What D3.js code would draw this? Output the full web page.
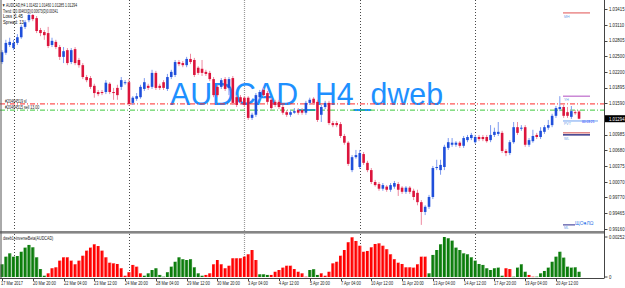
<!DOCTYPE html>
<html><head><meta charset="utf-8">
<script src="https://cdn.jsdelivr.net/npm/d3@7"></script>
<style>html,body{margin:0;padding:0;background:#fff}svg{display:block}</style>
</head><body>
<svg id="c" width="625" height="288"></svg>
<script>
// ---------- DATA ----------
const opens=[1.0239,1.0257,1.0272,1.0266,1.0276,1.0287,1.0307,1.0320,1.0330,1.0324,
1.0301,1.0297,1.0295,1.0272,1.0278,1.0268,1.0249,1.0262,1.0239,1.0264,
1.0243,1.0233,1.0210,1.0208,1.0193,1.0181,1.0181,1.0181,1.0197,1.0181,
1.0189,1.0191,1.0199,1.0200,1.0160,1.0168,1.0171,1.0187,1.0193,1.0191,
1.0218,1.0193,1.0200,1.0187,1.0210,1.0214,1.0239,1.0237,1.0233,1.0245,
1.0243,1.0228,1.0226,1.0220,1.0218,1.0206,1.0191,1.0191,1.0206,1.0189,
1.0208,1.0171,1.0171,1.0170,1.0170,1.0131,1.0137,1.0171,1.0185,1.0179,
1.0166,1.0162,1.0162,1.0152,1.0142,1.0137,1.0141,1.0146,1.0146,1.0141,
1.0160,1.0168,1.0162,1.0137,1.0152,1.0160,1.0121,1.0121,1.0119,1.0096,
1.0083,1.0030,1.0055,1.0036,1.0061,1.0044,1.0030,1.0007,1.0003,0.9994,
0.9998,0.9992,0.9998,1.0003,0.9996,0.9988,0.9996,0.9990,0.9986,0.9968,
0.9949,0.9959,0.9978,1.0034,1.0030,1.0036,1.0073,1.0079,1.0079,1.0083,
1.0077,1.0088,1.0092,1.0084,1.0094,1.0094,1.0094,1.0088,1.0098,1.0100,
1.0102,1.0067,1.0063,1.0084,1.0113,1.0110,1.0113,1.0079,1.0086,1.0098,
1.0094,1.0104,1.0112,1.0117,1.0135,1.0148,1.0152,1.0142,1.0133,1.0142,
1.01432];
const highs=[1.0262,1.0282,1.0286,1.0282,1.0293,1.0311,1.0320,1.0334,1.0332,1.0328,
1.0305,1.0301,1.0307,1.0286,1.0282,1.0272,1.0268,1.0266,1.0266,1.0268,
1.0247,1.0237,1.0214,1.0212,1.0197,1.0185,1.0185,1.0204,1.0200,1.0189,
1.0195,1.0210,1.0204,1.0206,1.0173,1.0179,1.0195,1.0208,1.0197,1.0224,
1.0222,1.0197,1.0204,1.0216,1.0224,1.0243,1.0243,1.0241,1.0249,1.0255,
1.0247,1.0231,1.0243,1.0224,1.0222,1.0210,1.0195,1.0208,1.0210,1.0210,
1.0212,1.0175,1.0175,1.0173,1.0173,1.0141,1.0179,1.0185,1.0189,1.0183,
1.0170,1.0166,1.0166,1.0156,1.0146,1.0146,1.0150,1.0150,1.0150,1.0164,
1.0170,1.0171,1.0166,1.0156,1.0164,1.0164,1.0125,1.0125,1.0123,1.0100,
1.0086,1.0059,1.0069,1.0069,1.0065,1.0048,1.0034,1.0011,1.0007,1.0005,
1.0001,1.0005,1.0009,1.0007,0.9999,0.9999,0.9999,0.9994,0.9992,0.9972,
0.9962,0.9982,1.0038,1.0050,1.0050,1.0079,1.0092,1.0092,1.0086,1.0086,
1.0096,1.0098,1.0102,1.0098,1.0098,1.0098,1.0098,1.0117,1.0112,1.0123,
1.0106,1.0071,1.0088,1.0123,1.0123,1.0117,1.0117,1.0092,1.0108,1.0102,
1.0113,1.0117,1.0127,1.0139,1.0154,1.0173,1.0156,1.0152,1.0154,1.0146,
1.01460];
const lows=[1.0235,1.0253,1.0268,1.0262,1.0272,1.0284,1.0303,1.0316,1.0318,1.0295,
1.0289,1.0282,1.0266,1.0268,1.0264,1.0243,1.0237,1.0233,1.0235,1.0233,
1.0228,1.0206,1.0200,1.0187,1.0170,1.0173,1.0175,1.0177,1.0177,1.0166,
1.0166,1.0185,1.0195,1.0154,1.0156,1.0164,1.0168,1.0183,1.0185,1.0187,
1.0185,1.0185,1.0185,1.0183,1.0206,1.0210,1.0231,1.0229,1.0229,1.0235,
1.0210,1.0214,1.0212,1.0212,1.0202,1.0171,1.0171,1.0187,1.0183,1.0175,
1.0156,1.0152,1.0158,1.0152,1.0127,1.0127,1.0133,1.0168,1.0171,1.0158,
1.0146,1.0152,1.0148,1.0137,1.0133,1.0133,1.0139,1.0137,1.0137,1.0137,
1.0156,1.0156,1.0123,1.0123,1.0148,1.0117,1.0113,1.0113,1.0092,1.0079,
1.0038,1.0026,1.0052,1.0032,1.0040,1.0026,1.0003,0.9998,0.9990,0.9990,
0.9988,0.9988,0.9994,0.9980,0.9984,0.9984,0.9984,0.9972,0.9962,0.9924,
0.9943,0.9955,0.9974,1.0030,1.0021,1.0030,1.0069,1.0075,1.0075,1.0073,
1.0073,1.0084,1.0088,1.0081,1.0086,1.0086,1.0083,1.0084,1.0094,1.0096,
1.0063,1.0057,1.0059,1.0081,1.0098,1.0106,1.0075,1.0075,1.0083,1.0090,
1.0090,1.0100,1.0108,1.0113,1.0131,1.0144,1.0131,1.0131,1.0129,1.0137,
1.01285];
const closes=[1.0258,1.0276,1.0278,1.0276,1.0287,1.0307,1.0316,1.0330,1.0322,1.0299,
1.0295,1.0291,1.0270,1.0280,1.0268,1.0249,1.0260,1.0237,1.0262,1.0237,
1.0233,1.0210,1.0204,1.0191,1.0179,1.0177,1.0179,1.0199,1.0181,1.0179,
1.0175,1.0204,1.0200,1.0158,1.0170,1.0173,1.0191,1.0200,1.0189,1.0218,
1.0189,1.0189,1.0189,1.0210,1.0220,1.0239,1.0235,1.0233,1.0245,1.0239,
1.0214,1.0218,1.0218,1.0216,1.0206,1.0175,1.0175,1.0204,1.0187,1.0206,
1.0160,1.0156,1.0162,1.0156,1.0131,1.0137,1.0175,1.0181,1.0175,1.0162,
1.0150,1.0156,1.0152,1.0141,1.0137,1.0142,1.0144,1.0141,1.0141,1.0160,
1.0166,1.0160,1.0127,1.0152,1.0160,1.0121,1.0117,1.0117,1.0096,1.0083,
1.0042,1.0055,1.0059,1.0063,1.0044,1.0030,1.0007,1.0001,0.9994,1.0001,
0.9992,1.0001,1.0005,0.9992,0.9988,0.9996,0.9988,0.9978,0.9968,0.9949,
0.9959,0.9978,1.0034,1.0036,1.0040,1.0075,1.0084,1.0083,1.0083,1.0077,
1.0092,1.0094,1.0098,1.0094,1.0090,1.0090,1.0086,1.0098,1.0104,1.0104,
1.0067,1.0063,1.0084,1.0113,1.0102,1.0112,1.0079,1.0088,1.0096,1.0094,
1.0106,1.0113,1.0117,1.0135,1.0150,1.0152,1.0135,1.0135,1.0144,1.0141,
1.01294];

const histValues=[.00080,.00128,.00149,.00128,.00132,.00159,.00185,.00202,.00187,.00124,
.00050,.00008,.00023,.00055,.00061,.00103,.00124,.00124,.00103,.00080,
.00103,.00134,.00166,.00185,.00206,.00195,.00166,.00124,.00090,.00086,
.00082,.00055,.00008,.00030,.00076,.00065,.00023,.00008,.00023,.00044,
.00055,.00013,.00002,.00030,.00065,.00096,.00124,.00112,.00107,.00112,
.00061,.00023,.00008,.00013,.00023,.00080,.00107,.00080,.00055,.00071,
.00118,.00118,.00118,.00128,.00143,.00170,.00107,.00017,.00017,.00013,
.00013,.00033,.00044,.00059,.00071,.00071,.00050,.00033,.00023,.00002,
.00044,.00049,.00013,.00023,.00008,.00033,.00086,.00096,.00134,.00170,
.00219,.00250,.00227,.00197,.00159,.00164,.00187,.00208,.00212,.00197,
.00175,.00143,.00112,.00090,.00082,.00061,.00061,.00059,.00080,.00128,
.00128,.00023,.00139,.00170,.00206,.00252,.00244,.00229,.00185,.00170,
.00149,.00143,.00124,.00103,.00082,.00076,.00055,.00044,.00055,.00059,
.00008,.00055,.00050,.00002,.00059,.00080,.00033,.00013,.00002,.00002,
.00023,.00038,.00059,.00096,.00128,.00159,.00122,.00065,.00059,.00061,
.00033];
const histSides=("GGGGG GGGGG GG RRRRR RRRRR RRRRR RRRRR RRRRR GGGGG GGGGG GGGGG G "+
 "RRRRR RRRRR RRRR GGG RRRRR RRRRR GGG RRRRR RRRRR RRRRR RRRRR RRRRR RRR "+
 "GGGGG GGGGG GGGGG GGGGG RR GGGG RR GGGGG GGGGG GG").replace(/ /g,"").split("");

const timeLabels=["17 Mar 2017","20 Mar 20:00","22 Mar 04:00","23 Mar 12:00","24 Mar 20:00",
"28 Mar 04:00","29 Mar 12:00","30 Mar 20:00","3 Apr 04:00","4 Apr 12:00","5 Apr 20:00",
"7 Apr 04:00","10 Apr 12:00","11 Apr 20:00","13 Apr 04:00","14 Apr 12:00","17 Apr 20:00",
"19 Apr 04:00","20 Apr 12:00"];
const timeLabelBars=[0,8,16,24,32,40,48,56,64,72,80,88,96,104,112,120,128,136,144];
const weekSeparatorBars=[3,33,63,93,123];
const priceTicks=[1.03415,1.03110,1.02805,1.02500,1.02200,1.01895,1.01590,1.00985,1.00680,1.00375,1.00070,0.99770,0.99465,0.99160];
const priceTickLabels=["1.03415","1.03110","1.02805","1.02500","1.02200","1.01895","1.01590","1.00985","1.00680","1.00375","1.00070","0.99770","0.99465","0.99160"];
const histTicks=[0.00252,0];
const histTickLabels=["0.00252","0"];
const currentPrice=1.01294;
const slPrice=1.0158, sellPrice=1.0146;
const levelPrices={MH:1.0334, YH:1.0173, PVT:1.0125, WH:1.0102, WL:1.0098, ML:0.9924};
const headerLines=["\u25BC AUDCAD,H4  1.01432 1.01460 1.01285 1.01294",
"Trend: 0(0.00463(D)0.00673(D)0.00341","Loss |1.45","Spread: 13"];

// ---------- LAYOUT ----------
const svg=d3.select("#c");
const FONT="'Liberation Sans', Arial, sans-serif";
const axisX=604.5, mainBottom=231, subTop=234, subBottom=278;
const x=d3.scaleLinear().domain([0,150]).range([2,579.05]);
const y=d3.scaleLinear().domain([0.99122,1.0359]).range([231,0]);
const yh=d3.scaleLinear().domain([0,0.00252]).range([277,237]);

function txt(g,xx,yy,s,size,fill,sx,anchor,extra){
  const t=g.append("g").attr("transform",`translate(${xx},${yy}) scale(${sx||1},1)`)
   .append("text").attr("x",0).attr("y",0).attr("font-family",FONT).attr("font-size",size)
   .attr("fill",fill).attr("text-anchor",anchor||"start").text(s);
  if(extra) extra(t);
  return t;
}

svg.append("rect").attr("width",625).attr("height",288).attr("fill","#fff");
svg.append("defs").append("clipPath").attr("id","mc").append("rect")
  .attr("x",0).attr("y",0).attr("width",axisX).attr("height",mainBottom);
svg.select("defs").append("clipPath").attr("id","sc").append("rect")
  .attr("x",0).attr("y",subTop).attr("width",axisX).attr("height",subBottom-subTop);

const main=svg.append("g").attr("clip-path","url(#mc)");
const sub=svg.append("g").attr("clip-path","url(#sc)");

// week separators
weekSeparatorBars.forEach((b,i)=>{
  const xx=Math.round(x(b))+0.5;
  const grey=(i===2);
  [main,sub].forEach((g,k)=>{
    g.append("line").attr("x1",xx).attr("x2",xx)
     .attr("y1",k?subTop:0).attr("y2",k?subBottom:mainBottom)
     .attr("stroke",grey?"#9a9a9a":"#333").attr("stroke-width",grey?1.2:0.9)
     .attr("stroke-dasharray",grey?"1,1":"1,2");
  });
});

// big watermark text
main.append("text").attr("x",170).attr("y",105).attr("font-family",FONT)
  .attr("font-size",32).attr("fill","#1e90ff").attr("textLength",273)
  .attr("lengthAdjust","spacingAndGlyphs").text("AUDCAD_H4_dweb");

// order lines
main.append("line").attr("x1",0).attr("x2",axisX).attr("y1",y(slPrice)).attr("y2",y(slPrice))
  .attr("stroke","#ff2a2a").attr("stroke-width",1).attr("stroke-dasharray","5,2,1,2");
main.append("line").attr("x1",0).attr("x2",axisX).attr("y1",y(sellPrice)).attr("y2",y(sellPrice))
  .attr("stroke","#3cc83c").attr("stroke-width",1).attr("stroke-dasharray","5,2,1,2");

// candles
const bars=d3.range(opens.length).map(i=>({i,o:opens[i],h:highs[i],l:lows[i],c:closes[i]}));
const cg=main.append("g");
cg.selectAll("line.w").data(bars).join("line").attr("class","w")
  .attr("x1",d=>x(d.i)).attr("x2",d=>x(d.i))
  .attr("y1",d=>y(d.h)).attr("y2",d=>y(d.l))
  .attr("stroke",d=>d.c>=d.o?"#7d9bf0":"#ee8aa0").attr("stroke-width",1);
cg.selectAll("rect.b").data(bars).join("rect").attr("class","b")
  .attr("x",d=>x(d.i)-1.3).attr("width",2.6)
  .attr("y",d=>y(Math.max(d.o,d.c)))
  .attr("height",d=>Math.max(1,Math.abs(y(d.o)-y(d.c))))
  .attr("fill",d=>d.c>=d.o?"#1f4fdb":"#dc143c");

// order labels
txt(main,5,102.5,"#20464519 sl",4.6,"#222",0.78);
txt(main,5,109,"#20464515 sell 13.00",4.6,"#222",0.78);

// header texts
txt(svg,2,6.5,headerLines[0],4.8,"#111",1,"start",t=>t.attr("textLength",75).attr("lengthAdjust","spacingAndGlyphs"));
txt(svg,3,12.5,headerLines[1],4.6,"#111",1,"start",t=>t.attr("textLength",55).attr("lengthAdjust","spacingAndGlyphs"));
txt(svg,3,18.3,headerLines[2],4.6,"#111",1,"start",t=>t.attr("textLength",20).attr("lengthAdjust","spacingAndGlyphs"));
txt(svg,3,24,headerLines[3],4.6,"#111",1,"start",t=>t.attr("textLength",21).attr("lengthAdjust","spacingAndGlyphs"));

// level markers on right
const lx1=563, lx2=590;
function level(p,color,w){
  main.append("line").attr("x1",lx1).attr("x2",lx2).attr("y1",y(p)).attr("y2",y(p))
   .attr("stroke",color).attr("stroke-width",w||1);
}
level(levelPrices.MH,"#e05050");
txt(main,564,y(levelPrices.MH)+5,"MH",4.2,"#6f9fe8",0.85);
level(levelPrices.YH,"#b04cc0");
txt(main,564,y(levelPrices.YH)+5,"YH",4.2,"#6f9fe8",0.85);
main.append("line").attr("x1",lx1).attr("x2",598).attr("y1",y(levelPrices.PVT)).attr("y2",y(levelPrices.PVT))
  .attr("stroke","#6fa0f0").attr("stroke-width",1);
txt(main,564,y(levelPrices.PVT)+4.5,"PVT",4.2,"#6f9fe8",0.85);
txt(main,582,y(levelPrices.PVT)+1.8,"00:03:21",4,"#1030ff",0.8);
level(levelPrices.WH,"#d04848");
level(levelPrices.WL,"#101070",1.3);
txt(main,564,y(levelPrices.WL)+5,"WL",4.2,"#6f9fe8",0.85);
main.append("line").attr("x1",lx1).attr("x2",575).attr("y1",y(levelPrices.ML)).attr("y2",y(levelPrices.ML))
  .attr("stroke","#2a2a90").attr("stroke-width",1);
txt(main,564,y(levelPrices.ML)+4.5,"ML",4,"#6f9fe8",0.85);
txt(main,575,y(levelPrices.ML)+0.5,"\u0429\u041E\u25CF\u041B\u03A9",5.5,"#3a7be8",0.9);

// histogram
const hg=sub.append("g");
hg.selectAll("rect").data(histValues).join("rect")
  .attr("x",(d,i)=>x(i)-1.5).attr("width",3)
  .attr("y",d=>yh(d)).attr("height",d=>Math.max(0.4,yh(0)-yh(d)))
  .attr("fill",(d,i)=>histSides[i]==="G"?"#0b7d0b":"#ff0000");
hg.selectAll("line").data(histValues).join("line")
  .attr("x1",(d,i)=>x(i)+1.2).attr("x2",(d,i)=>x(i)+1.2)
  .attr("y1",d=>yh(d)).attr("y2",yh(0))
  .attr("stroke",(d,i)=>histSides[i]==="G"?"#66aa66":"#ff8888").attr("stroke-width",0.6);
txt(svg,3,239.5,"dweb1+inverseBeta(AUDCAD)",4.6,"#222",0.8);

// frames
svg.append("rect").attr("x",0).attr("y",mainBottom).attr("width",axisX).attr("height",2.6).attr("fill","#858585");
svg.append("line").attr("x1",axisX).attr("x2",axisX).attr("y1",0).attr("y2",subBottom).attr("stroke","#444").attr("stroke-width",1);
svg.append("line").attr("x1",1).attr("x2",1).attr("y1",0).attr("y2",subBottom).attr("stroke","#555").attr("stroke-width",1);
svg.append("line").attr("x1",0).attr("x2",axisX).attr("y1",subBottom+0.5).attr("y2",subBottom+0.5).attr("stroke","#444").attr("stroke-width",1);

// right price axis
priceTicks.forEach((p,i)=>{
  svg.append("line").attr("x1",axisX).attr("x2",axisX+3).attr("y1",Math.round(y(p))+0.5).attr("y2",Math.round(y(p))+0.5).attr("stroke","#444");
  txt(svg,609,y(p)+1.8,priceTickLabels[i],5,"#222",0.86);
});
svg.append("rect").attr("x",axisX+0.5).attr("y",y(currentPrice)-3.5).attr("width",20).attr("height",7).attr("fill","#000");
txt(svg,609,y(currentPrice)+1.8,currentPrice.toFixed(5),5,"#fff",0.86);
histTicks.forEach((v,i)=>{
  svg.append("line").attr("x1",axisX).attr("x2",axisX+3).attr("y1",yh(v)).attr("y2",yh(v)).attr("stroke","#444");
  txt(svg,609,yh(v)+1.8,histTickLabels[i],5,"#222",0.86);
});

// time axis
timeLabelBars.forEach((b,i)=>{
  const xx=Math.round(x(b))+0.5;
  svg.append("line").attr("x1",xx).attr("x2",xx).attr("y1",subBottom).attr("y2",subBottom+3).attr("stroke","#444");
  txt(svg,i===0?1:xx-0.5,285,timeLabels[i],5,"#222",0.78);
});
</script>
</body></html>
